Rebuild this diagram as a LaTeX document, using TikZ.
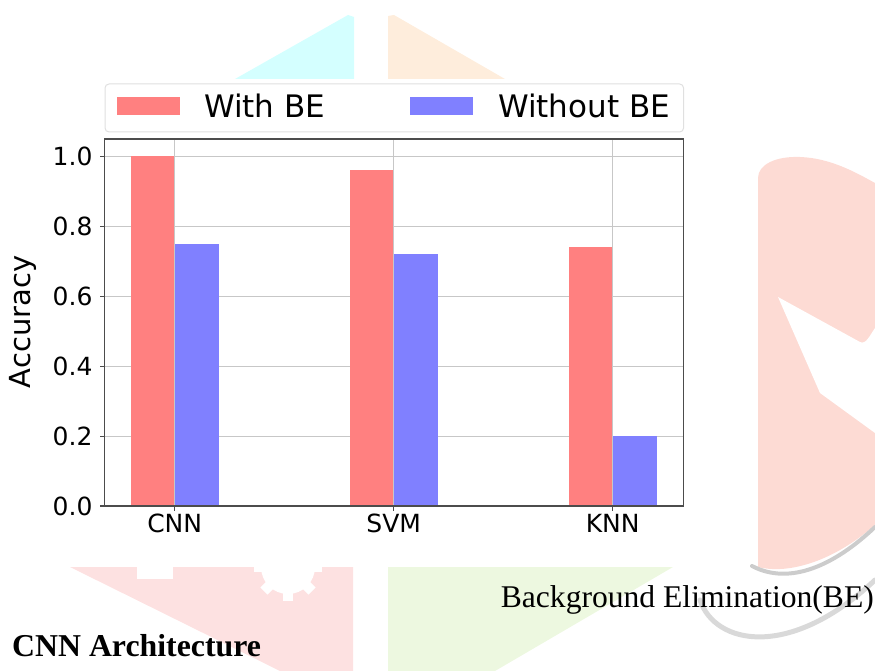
\documentclass[tikz,border=0pt]{standalone}
\usepackage{fontspec}
\setmainfont{Liberation Serif}
\newfontfamily\plotfont{DejaVu Sans}
\usepackage{tikz}
\definecolor{barred}{RGB}{255,128,128}
\definecolor{barblue}{RGB}{128,128,255}
\definecolor{wmcyan}{RGB}{212,255,255}
\definecolor{wmpeach}{RGB}{254,237,220}
\definecolor{wmpink}{RGB}{253,225,225}
\definecolor{wmgreen}{RGB}{237,248,224}
\definecolor{wmsalmon}{RGB}{253,219,212}
\def\withbar{\fill[barred]}
\def\withoutbar{\fill[barblue]}
\def\drawswoosh{\draw[line cap=round]}

\begin{document}
\begin{tikzpicture}[x=1pt,y=-1pt,
  gridline/.style={draw=black!22,line width=0.8pt},
  plotframe/.style={draw=black!70,line width=1.1pt},
  ticklabel/.style={inner sep=0pt,font=\plotfont\fontsize{25}{30}\selectfont},
  legendtext/.style={inner sep=0pt,anchor=west,font=\plotfont\fontsize{31}{36}\selectfont}]
\useasboundingbox (0,0) rectangle (875,671);

% watermark behind the chart
\fill[wmcyan] (235,79) -- (348,15) -- (354,17) -- (354,79) -- cycle;
\fill[wmpeach] (388,79) -- (388,16) -- (394,15) -- (505,79) -- cycle;
\fill[wmpink] (70,567) -- (353,567) -- (353,671) -- (280,671) -- cycle;
\fill[white] (137,567) rectangle (173,579);
\fill[white] (288,567) circle (27);
\foreach \a in {0,45,90,135}
  \fill[white,rotate around={\a:(288,567)}] (283,533) rectangle (293,601);
\fill[wmgreen] (388,567) -- (673,567) -- (495,671) -- (388,671) -- cycle;
\fill[wmsalmon] (758,567) -- (758,178) .. controls (758,165) and (775,156) .. (800,157)
  .. controls (830,158) and (855,172) .. (875,183) -- (875,525)
  .. controls (835,560) and (790,575) .. (758,567) -- cycle;
\fill[white] (778,297) -- (860,342) .. controls (866,345) and (870,335) .. (875,328)
  -- (875,433) -- (820,393) -- cycle;
\drawswoosh[gray!40,line width=4pt] (752,566) .. controls (790,586) and (835,565) .. (875,527);
\drawswoosh[gray!30,line width=5pt] (700,600) .. controls (715,645) and (790,660) .. (875,580);

% legend
\draw[draw=black!12,fill=white,rounded corners=4pt,line width=1pt] (105,84) rectangle (683.6,132);
\fill[barred] (117,97) rectangle (180,115.5);
\node[legendtext] (withlbl) at (204,106) {With BE};
\fill[barblue] (410,97) rectangle (473,115.5);
\node[legendtext] (withoutlbl) at (498,106) {Without BE};

% chart in data units
\begin{scope}[shift={(174.7,506)},x=219pt,y={(0pt,349.5pt)}]
\fill[white] (-0.32,0) rectangle (2.325,1.05);
\foreach \v/\t in {0/0.0,0.2/0.2,0.4/0.4,0.6/0.6,0.8/0.8,1/1.0} {
  \draw[gridline] (-0.32,\v) -- (2.325,\v);
  \draw[plotframe] (-0.32,\v) -- ++(-5pt,0);
  \node[ticklabel,anchor=east,xshift=-12pt] (ytick\t) at (-0.32,\v) {\t};
}
\withbar (-0.2,0) rectangle (0,1.00);
\withoutbar (0,0) rectangle (0.2,0.75);
\withbar (0.8,0) rectangle (1,0.96);
\withoutbar (1,0) rectangle (1.2,0.72);
\withbar (1.8,0) rectangle (2,0.74);
\withoutbar (2,0) rectangle (2.2,0.20);
\foreach \c/\m in {0/CNN,1/SVM,2/KNN} {
  \draw[gridline] (\c,0) -- (\c,1.05);
  \draw[plotframe] (\c,0) -- ++(0,-5pt);
  \node[ticklabel,anchor=north,yshift=-8pt] (xtick\m) at (\c,0) {\m};
}
\draw[plotframe] (-0.32,0) rectangle (2.325,1.05);
\end{scope}
\node[rotate=90,inner sep=0pt,font=\plotfont\fontsize{29}{34}\selectfont] (ylabel) at (23,322) {Accuracy};

% captions under the chart
\node[anchor=base east,inner sep=0pt,font=\fontsize{31.6}{36}\selectfont] (becaption) at (874,607) {Background Elimination(BE)};
\node[anchor=base west,inner sep=0pt,font=\bfseries\fontsize{31.8}{36}\selectfont] (cnnhead) at (12,656) {CNN Architecture};
\end{tikzpicture}
\end{document}
